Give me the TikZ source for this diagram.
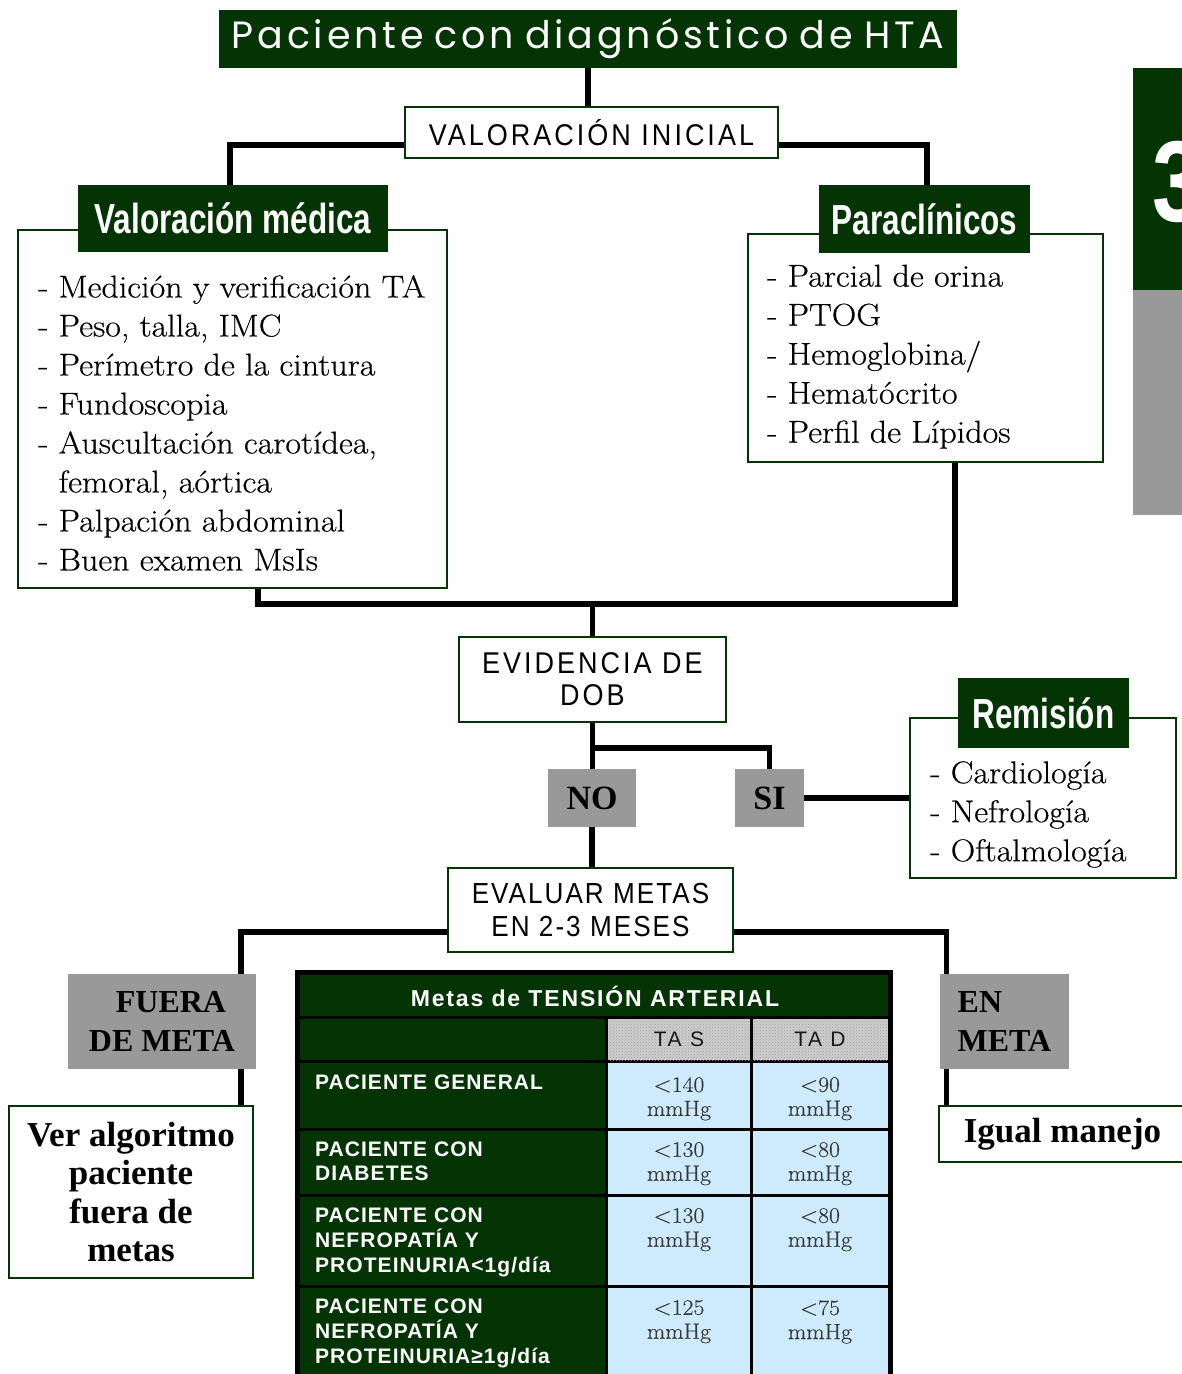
\documentclass[tikz,border=0pt]{standalone}
\usepackage{fontspec}
\usetikzlibrary{patterns}
\newfontfamily\geofont[LetterSpace=10,WordSpace=0.8]{Poppins}
\newfontfamily\condfont[FakeStretch=0.9,LetterSpace=10]{Liberation Sans}
\newfontfamily\headfont[FakeStretch=0.75]{Liberation Sans}
\newfontfamily\tmsfont{Liberation Serif}
\newfontfamily\tblfont[LetterSpace=5]{Liberation Sans}
\newfontfamily\digitfont[FakeStretch=0.8]{Liberation Sans}
\newfontfamily\listfont[FakeStretch=1.08,FakeBold=0.4]{Latin Modern Roman}
\newfontfamily\valfont[FakeStretch=1.08,FakeBold=0.3]{Latin Modern Roman}
\definecolor{dg}{RGB}{4,52,4}
\definecolor{gbox}{RGB}{153,153,153}
\definecolor{cellblue}{RGB}{205,235,253}
\definecolor{cellgray}{RGB}{205,205,205}
\definecolor{valtext}{RGB}{55,55,55}
\tikzset{
  greenhdr/.style={fill=dg, text=white, inner sep=0pt},
  whitebox/.style={draw=dg, line width=2.4pt, fill=white, inner sep=0pt},
  graybox/.style={fill=gbox, inner sep=0pt},
  conn/.style={line width=5.4pt, black},
  listtxt/.style={inner sep=0pt, align=left, anchor=north west, font=\listfont\fontsize{31.5}{39}\selectfont},
  boxhead/.style={greenhdr, font=\headfont\bfseries\fontsize{42}{42}\selectfont},
  condtxt/.style={font=\condfont\fontsize{30}{32}\selectfont, align=center},
  boldserif/.style={font=\tmsfont\bfseries\fontsize{35}{38.5}\selectfont, align=center},
  rowlabel/.style={inner sep=0pt, anchor=north west, align=left, text=white, font=\tblfont\bfseries\fontsize{21}{25}\selectfont},
  valtxt/.style={inner sep=0pt, anchor=north, align=center, text=valtext, font=\valfont\fontsize{22}{24}\selectfont},
  colhead/.style={inner sep=0pt, text=black!90, font=\tblfont\addfontfeature{LetterSpace=12}\fontsize{21}{21}\selectfont},
}
\begin{document}
\begin{tikzpicture}[x=1pt,y=-1pt]
\path[use as bounding box, fill=white] (0,0) rectangle (1182,1374);

% chapter tab on the right edge
\fill[dg] (1133,68) rectangle (1190,290);
\fill[gbox] (1133,290) rectangle (1190,515);
\node[inner sep=0pt, anchor=west, text=white, font=\digitfont\bfseries\fontsize{115}{115}\selectfont] (tabnum) at (1152,182) {3};

% top of the flow
\node[greenhdr, minimum width=738pt, minimum height=58pt, font=\geofont\fontsize{38}{38}\selectfont] (title) at (588,39) {Paciente con diagnóstico de HTA};
\node[whitebox, minimum width=373pt, minimum height=51pt, condtxt] (vi) at (591.5,132.5) {VALORACIÓN INICIAL};

% initial assessment boxes
\node[whitebox, minimum width=429pt, minimum height=358pt] (vmbox) at (232.5,409) {};
\node[boxhead, minimum width=310pt, minimum height=67pt] (vmhdr) at (233,218.5) {Valoración médica};
\node[listtxt] (vmlist) at (38,275) {- Medición y verificación TA\\
- Peso, talla, IMC\\
- Perímetro de la cintura\\
- Fundoscopia\\
- Auscultación carotídea,\\
\phantom{- }femoral, aórtica\\
- Palpación abdominal\\
- Buen examen MsIs};

\node[whitebox, minimum width=355pt, minimum height=228pt] (parbox) at (925.5,348) {};
\node[boxhead, minimum width=211pt, minimum height=68pt] (parhdr) at (924.5,219) {Paraclínicos};
\node[listtxt] (parlist) at (767,264.5) {- Parcial de orina\\
- PTOG\\
- Hemoglobina/\\
- Hematócrito\\
- Perfil de Lípidos};

% target-organ damage decision
\node[whitebox, minimum width=267pt, minimum height=85pt, condtxt] (evid) at (592.5,679.5) {EVIDENCIA DE\\DOB};
\node[graybox, minimum width=88pt, minimum height=58pt, font=\tmsfont\bfseries\fontsize{34}{34}\selectfont] (no) at (592,798) {NO};
\node[graybox, minimum width=69pt, minimum height=58pt, font=\tmsfont\bfseries\fontsize{34}{34}\selectfont] (si) at (769.5,798) {SI};

\node[whitebox, minimum width=266pt, minimum height=160pt] (rembox) at (1043,798) {};
\node[boxhead, minimum width=171pt, minimum height=70pt] (remhdr) at (1043.5,713) {Remisión};
\node[listtxt] (remlist) at (930,761) {- Cardiología\\
- Nefrología\\
- Oftalmología};

% follow-up
\node[whitebox, minimum width=285pt, minimum height=84pt, condtxt, font=\condfont\addfontfeature{LetterSpace=7}\fontsize{29}{33}\selectfont] (eval) at (590.5,910) {EVALUAR METAS\\EN 2-3 MESES};
\node[graybox, minimum width=188pt, minimum height=95pt, font=\tmsfont\bfseries\fontsize{32}{39}\selectfont, align=center] (fuera) at (162,1021.5) {\hspace*{18pt}FUERA\\DE META};
\node[whitebox, minimum width=244pt, minimum height=172pt, boldserif] (ver) at (131,1192) {Ver algoritmo\\paciente\\fuera de\\metas};
\node[graybox, minimum width=129pt, minimum height=95pt, font=\tmsfont\bfseries\fontsize{32}{39}\selectfont, align=left] (enmeta) at (1004.5,1021.5) {EN\\META};
\node[whitebox, minimum width=247pt, minimum height=56pt, boldserif] (igual) at (1062.5,1134) {Igual manejo};

% connectors
\draw[conn] (title.south) -- (title.south |- vi.north);
\draw[conn] ([yshift=-12.5pt]vi.west) -| ([xshift=-3pt]vmhdr.north);
\draw[conn] ([yshift=-12.5pt]vi.east) -| ([xshift=2.5pt]parhdr.north);
\coordinate (merge) at (593,604);
\draw[conn] ([xshift=25.5pt]vmbox.south) |- (merge) -| ([xshift=29.5pt]parbox.south);
\draw[conn] (evid.north |- merge) -- (evid.north);
\draw[conn] (evid.south) -- (evid.south |- no.north);
\coordinate (branch) at (593,748);
\draw[conn] (evid.south |- branch) -| (si.north);
\draw[conn] (si.east) -- (si.east -| rembox.west);
\draw[conn] (no.south) -- (no.south |- eval.north);
\draw[conn] ([yshift=-22pt]eval.west) -| ([xshift=79pt]fuera.north);
\draw[conn] ([yshift=-22pt]eval.east) -| ([xshift=-58pt]enmeta.north);
\draw[conn] ([xshift=79pt]fuera.south) -- ([xshift=79pt]fuera.south |- ver.north);
\draw[conn] ([xshift=-58pt]enmeta.south) -- ([xshift=-58pt]enmeta.south |- igual.north);

% blood pressure targets table
\fill[black] (295,970) rectangle (893,1380);
\fill[dg] (300,975) rectangle (888,1016);
\fill[dg] (300,1019) rectangle (605,1060);
\fill[cellgray] (608,1019) rectangle (750,1060);
\fill[cellgray] (753,1019) rectangle (888,1060);
\fill[pattern=crosshatch dots, pattern color=gray!75] (608,1019) rectangle (750,1060);
\fill[pattern=crosshatch dots, pattern color=gray!75] (753,1019) rectangle (888,1060);
\foreach \ya/\yb in {1063/1128, 1131/1194, 1197/1285, 1288/1380}{
  \fill[dg] (300,\ya) rectangle (605,\yb);
  \fill[cellblue] (608,\ya) rectangle (750,\yb);
  \fill[cellblue] (753,\ya) rectangle (888,\yb);
}
\node[inner sep=0pt, text=white, font=\tblfont\bfseries\addfontfeature{LetterSpace=8}\fontsize{23}{23}\selectfont] (tblhead) at (595,996) {Metas de TENSIÓN ARTERIAL};
\node[colhead] (tas) at (679,1039) {TA S};
\node[colhead] (tad) at (820,1039) {TA D};

\node[rowlabel] (rgen) at (315,1075) {PACIENTE GENERAL};
\node[rowlabel, font=\tblfont\bfseries\fontsize{21}{23.5}\selectfont] (rdiab) at (315,1142) {PACIENTE CON\\DIABETES};
\node[rowlabel] (rnefa) at (315,1208) {PACIENTE CON\\NEFROPATÍA Y\\PROTEINURIA<1g/día};
\node[rowlabel] (rnefb) at (315,1299) {PACIENTE CON\\NEFROPATÍA Y\\PROTEINURIA≥1g/día};

\node[valtxt] (v1s) at (679,1077) {<140\\mmHg};
\node[valtxt] (v1d) at (820,1077) {<90\\mmHg};
\node[valtxt] (v2s) at (679,1142) {<130\\mmHg};
\node[valtxt] (v2d) at (820,1142) {<80\\mmHg};
\node[valtxt] (v3s) at (679,1208) {<130\\mmHg};
\node[valtxt] (v3d) at (820,1208) {<80\\mmHg};
\node[valtxt] (v4s) at (679,1300) {<125\\mmHg};
\node[valtxt] (v4d) at (820,1300) {<75\\mmHg};
\end{tikzpicture}
\end{document}
